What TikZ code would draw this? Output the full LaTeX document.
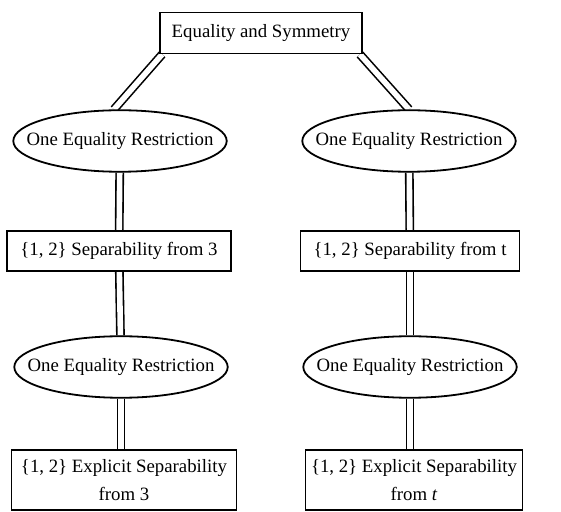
\documentclass[tikz,border=0pt]{standalone}
\usepackage{fontspec}
\setmainfont{Liberation Serif}
\usetikzlibrary{shapes.geometric,backgrounds}

\tikzset{
  box/.style={draw, rectangle, fill=white, line width=0.9pt, inner sep=2pt, align=center},
  oval/.style={draw, ellipse, fill=white, line width=0.9pt, inner xsep=-9pt, inner ysep=6.6pt},
  link/.style={double, double distance=2.8pt, line width=0.8pt},
}

\begin{document}
\begin{tikzpicture}[x=0.5pt,y=-0.5pt,font=\fontsize{9.4}{14}\selectfont]
\useasboundingbox (0,0) rectangle (561,512);
%top of the tree
\node[box,minimum width=101pt,minimum height=20.5pt] (eqsym) at (261,33) {Equality and Symmetry};
%first restriction on each side
\node[oval] (lone) at (120,141) {One Equality Restriction};
\node[oval] (rone) at (409,141) {One Equality Restriction};
%separability boxes
\node[box,minimum width=112pt,minimum height=20pt] (lsep) at (119,251) {\{1, 2\} Separability from 3};
\node[box,minimum width=109.5pt,minimum height=20pt] (rsep) at (410,251) {\{1, 2\} Separability from t};
%second restriction on each side
\node[oval] (ltwo) at (121,367) {One Equality Restriction};
\node[oval] (rtwo) at (410,367) {One Equality Restriction};
%explicit separability boxes
\node[box,minimum width=112.5pt,minimum height=30pt] (lexp) at (124,480) {\{1, 2\} Explicit Separability\\from 3};
\node[box,minimum width=108.5pt,minimum height=30pt] (rexp) at (414,480) {\{1, 2\} Explicit Separability\\from \textit{t}};
%draw the double links behind the nodes
\begin{scope}[on background layer]
\draw[link] ([xshift=1.5pt]eqsym.south west) -- ([xshift=-3pt]lone.north);
\draw[link] ([xshift=-1.5pt]eqsym.south east) -- (rone.north);
\draw[link] (lone) -- (lsep);
\draw[link] (rone) -- (rsep);
\draw[link] (lsep) -- (ltwo);
\draw[link] (rsep) -- (rtwo);
\draw[link] (ltwo.south) -- (ltwo.south |- lexp.north);
\draw[link] (rtwo.south) -- (rtwo.south |- rexp.north);
\end{scope}
\end{tikzpicture}
\end{document}
